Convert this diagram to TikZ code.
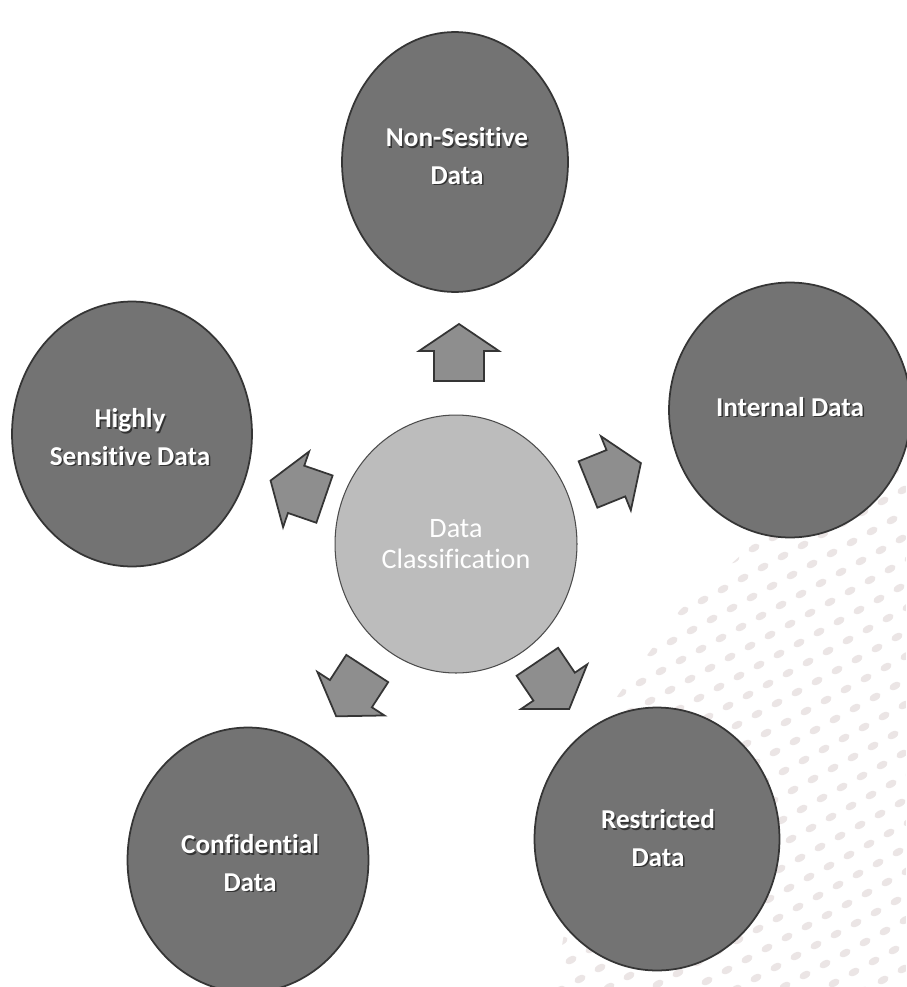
\documentclass[tikz,border=0pt]{standalone}
\usepackage{fontspec}
\setmainfont{Carlito}[Ligatures={NoCommon}]
\usetikzlibrary{shapes.geometric}
\definecolor{outerfill}{HTML}{737373}
\definecolor{centerfill}{HTML}{BCBCBC}
\definecolor{arrowfill}{HTML}{8E8E8E}
\definecolor{edgecol}{HTML}{353535}
\definecolor{dotcol}{HTML}{EBE5E5}
\tikzset{
  outercirc/.style={ellipse, draw=edgecol, line width=1pt, fill=outerfill, inner sep=0pt},
  centercirc/.style={ellipse, draw=gray!60!black, line width=0.6pt, fill=centerfill, inner sep=0pt},
  lbl/.style={text=white, font=\bfseries\fontsize{15.5}{21.5}\selectfont, align=center, inner sep=0pt},
  lblshadow/.style={lbl, text=black!80, xshift=0.03cm, yshift=-0.03cm},
  clbl/.style={text=white, font=\fontsize{16}{18}\selectfont, align=center, inner sep=0pt},
  blockarrow/.pic={\draw[draw=edgecol, line width=1pt, fill=arrowfill, line join=miter]
    (-28,-25) -- (2,-25) -- (2,-40) -- (29,0) -- (2,40) -- (2,25) -- (-28,25) -- cycle;}
}
\newcommand\shlabel[3]{%
  \node[lblshadow] (#1s) at (#2) {#3};
  \node[lbl] (#1) at (#2) {#3};}
\begin{document}
\begin{tikzpicture}[x=0.02cm, y=-0.02cm]
\useasboundingbox (0,0) rectangle (906,987);
\fill[white] (0,0) rectangle (906,987);
% faint background dot pattern
\begin{scope}
  \clip (906,455) -- (780,520) -- (680,610) -- (600,720) -- (555,987) -- (906,987) -- cycle;
  \foreach \i in {0,...,27}{
    \foreach \j in {-16,...,9}{
      \pgfmathsetmacro\px{560+20*\i+9*\j}
      \pgfmathsetmacro\py{990-11*\i+19*\j}
      \fill[dotcol] (\px,\py) ellipse [x radius=6, y radius=3.5, rotate=29];
    }
  }
\end{scope}
% circles
\node[centercirc, minimum width=4.84cm, minimum height=5.16cm] (center) at (456,544) {};
\node[outercirc, minimum width=4.52cm, minimum height=5.2cm] (top) at (455,162) {};
\node[outercirc, minimum width=4.84cm, minimum height=5.1cm] (internal) at (790,410) {};
\node[outercirc, minimum width=4.8cm, minimum height=5.3cm] (highly) at (132,434) {};
\node[outercirc, minimum width=4.82cm, minimum height=5.3cm] (confid) at (248,860) {};
\node[outercirc, minimum width=4.9cm, minimum height=5.26cm] (restr) at (657,839) {};
% labels
\node[clbl] (centerT) at (456,544) {Data\\Classification};
\shlabel{topT}{457,156}{Non-Sesitive\\Data}
\shlabel{internalT}{790,407}{Internal Data}
\shlabel{highlyT}{130,437}{Highly\\Sensitive Data}
\shlabel{confidT}{250,863}{Confidential\\Data}
\shlabel{restrT}{658,838}{Restricted\\Data}
% block arrows
\pic[rotate=90] at (459,353) {blockarrow};
\pic[rotate=22] at (614,474) {blockarrow};
\pic[rotate=161] at (298,490) {blockarrow};
\pic[rotate=237] at (352,692) {blockarrow};
\pic[rotate=-56] at (553,685) {blockarrow};
\end{tikzpicture}
\end{document}
